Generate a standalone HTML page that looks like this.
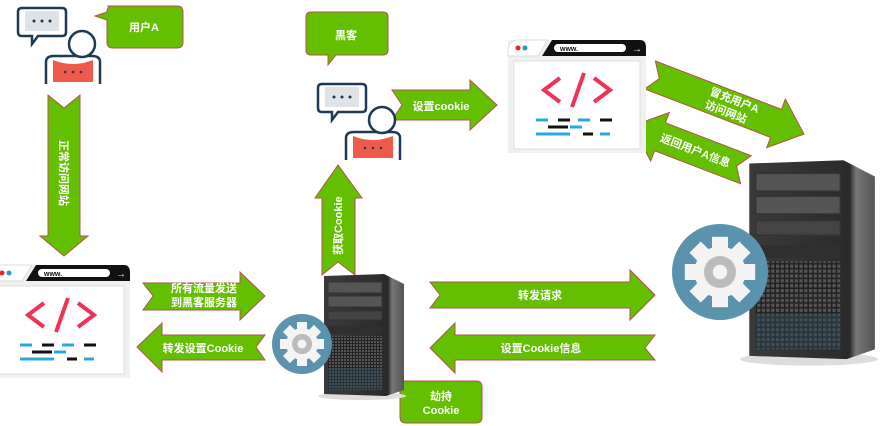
<!DOCTYPE html>
<html><head><meta charset="utf-8"><style>
html,body{margin:0;padding:0;background:#fff;}
svg{display:block;}
text{font-family:"Liberation Sans","Noto Sans CJK SC",sans-serif;font-weight:bold;fill:#fff;}
</style></head><body>
<svg width="880" height="426" viewBox="0 0 880 426" xmlns="http://www.w3.org/2000/svg">
<defs>
<linearGradient id="srv" x1="0" x2="1"><stop offset="0" stop-color="#3a3a3a"/><stop offset="0.8" stop-color="#2a2a2a"/><stop offset="0.85" stop-color="#777"/><stop offset="1" stop-color="#555"/></linearGradient>
<pattern id="grid" width="3" height="3" patternUnits="userSpaceOnUse"><rect width="3" height="3" fill="#222"/><rect width="2" height="2" fill="#555"/></pattern>
<g id="browser">
 <rect x="0" y="0" width="138" height="113" fill="#f0f0f0"/>
 <path d="M0,12 Q0,0 10,0 L40,0 L30,16 L0,16Z" fill="#fff" stroke="#ddd"/>
 <path d="M34,16 L44,0 L132,0 Q138,0 138,8 L138,16Z" fill="#111"/>
 <rect x="46" y="4" width="72" height="8" rx="4" fill="#fff"/>
 <text x="52" y="11" font-size="7" style="fill:#111;font-weight:bold">www.</text>
 <text x="124" y="12" font-size="10" style="fill:#fff">→</text>
 <circle cx="10" cy="8" r="2.5" fill="#e22"/><circle cx="17" cy="8" r="2.5" fill="#29c"/>
 <rect x="6" y="21" width="126" height="88" fill="#fff" stroke="#ddd"/>
 <path d="M52,38 L36,50 L52,62 M86,38 L102,50 L86,62 M76,33 L64,67" stroke="#ee3355" stroke-width="4" fill="none"/>
 <g stroke-width="3"><path d="M28,80h12M70,80h12M62,87h12M28,94h34M92,94h10" stroke="#2aa8dd"/><path d="M50,80h12M92,80h12M40,87h20M80,87h0M75,94h10" stroke="#111"/></g>
</g>
<g id="person">
 <path d="M4,2 h40 q4,0 4,4 v20 q0,4 -4,4 h-24 l-6,8 v-8 h-10 q-4,0 -4,-4 v-20 q0,-4 4,-4z" fill="#fff" stroke="#1e3a55" stroke-width="2.5"/>
 <rect x="7" y="5" width="34" height="20" fill="#dfe3e6"/>
 <circle cx="16" cy="15" r="1.5" fill="#1e3a55"/><circle cx="24" cy="15" r="1.5" fill="#1e3a55"/><circle cx="32" cy="15" r="1.5" fill="#1e3a55"/>
 <path d="M28,78 v-22 q0,-6 8,-6 h38 q8,0 8,6 v22" fill="#fff" stroke="#1e3a55" stroke-width="2.5"/>
 <path d="M35,54 q20,8 40,0 v22 h-40z" fill="#ef5a4c"/>
 <circle cx="47" cy="66" r="1.3" fill="#1e3a55"/><circle cx="55" cy="66" r="1.3" fill="#1e3a55"/><circle cx="63" cy="66" r="1.3" fill="#1e3a55"/>
 <circle cx="64" cy="38" r="13" fill="#fff" stroke="#1e3a55" stroke-width="2.5"/>
</g>
<g id="server">
 <ellipse cx="42" cy="124" rx="44" ry="4" fill="#ddd"/>
 <path d="M4,4 L64,2 L84,12 L84,118 L66,124 L4,122Z" fill="url(#srv)"/>
 <rect x="8" y="10" width="54" height="11" fill="#555" stroke="#333"/>
 <rect x="8" y="24" width="54" height="11" fill="#555" stroke="#333"/>
 <rect x="8" y="39" width="54" height="9" fill="#444" stroke="#333"/>
 <rect x="8" y="54" width="54" height="8" fill="#2f2f2f"/>
 <rect x="8" y="64" width="54" height="54" fill="url(#grid)"/>
 <rect x="8" y="96" width="54" height="22" fill="#2c4a5c" opacity="0.45"/>
</g>
<g id="gear">
 <circle cx="0" cy="0" r="30" fill="#5b93ae"/>
 <g fill="#f4f4f4">
  <circle r="16"/>
  <rect x="-5" y="-22" width="10" height="44"/>
  <rect x="-5" y="-22" width="10" height="44" transform="rotate(45)"/>
  <rect x="-5" y="-22" width="10" height="44" transform="rotate(90)"/>
  <rect x="-5" y="-22" width="10" height="44" transform="rotate(135)"/>
 </g>
 <circle r="10" fill="#bbb"/><circle r="4.5" fill="#f4f4f4"/>
</g>
</defs>
<g stroke="#b5524d" stroke-width="1" fill="#64bf00">
<polygon points="48,95 64,108 80,95 80,236 88,236 64,256 40,236 48,236"/>
<polygon points="322,275 338,262 355,275 355,198 362,198 338,165 315,198 322,198"/>
<polygon points="392,90 470,90 470,80 497,105 470,130 470,120 392,120 402,105"/>
<polygon points="143,283 240,283 240,272 265,296 240,320 240,310 143,310 153,296"/>
<polygon points="265,335 162,335 162,323 137,347 162,372 162,360 265,360 256,347"/>
<polygon points="430,282 630,282 630,270 655,295 630,320 630,308 430,308 440,295"/>
<polygon points="655,335 455,335 455,323 430,348 455,373 455,360 655,360 645,348"/>
<g transform="translate(650,75) rotate(21)"><polygon points="0,-15 135,-15 135,-26 165,0 135,26 135,15 0,15 10,0"/></g>
<g transform="translate(632,126) rotate(21)"><polygon points="0,0 30,-26 30,-15 122,-15 112,0 122,15 30,15 30,26"/></g>
<path d="M107,6 h70 q6,0 6,6 v30 q0,6 -6,6 h-64 q-6,0 -6,-6 v-22 l-12,-4 l12,-4 q0,-6 6,-6z"/>
<path d="M311,12 h72 q5,0 5,5 v33 q0,5 -5,5 h-47 l-8,10 l0,-10 h-17 q-5,0 -5,-5 v-33 q0,-5 5,-5z"/>
<path d="M402,381 h74 q6,0 6,6 v30 q0,6 -6,6 h-70 q-6,0 -6,-6 v-28 l-6,-8 l8,0z"/>
</g>
<use href="#person" x="18" y="6"/>
<use href="#person" x="318" y="82"/>
<use href="#browser" x="508" y="40"/>
<use href="#browser" x="-8" y="265"/>
<use href="#server" x="320" y="272"/>
<use href="#server" transform="translate(743,157) scale(1.57,1.63)"/>
<use href="#gear" x="302" y="344"/>
<use href="#gear" transform="translate(720,272) scale(1.6)"/>
<g font-size="11" text-anchor="middle">
<text x="144" y="31">用户A</text>
<text x="346" y="39">黑客</text>
<text x="441" y="110">设置cookie</text>
<text x="204" y="292">所有流量发送</text>
<text x="204" y="306">到黑客服务器</text>
<text x="203" y="352">转发设置Cookie</text>
<text x="540" y="299">转发请求</text>
<text x="541" y="352">设置Cookie信息</text>
<text x="441" y="400">劫持</text>
<text x="441" y="414">Cookie</text>
<text transform="translate(60,140) rotate(90)" x="0" y="0" text-anchor="start">正常访问网站</text>
<text transform="translate(342,255) rotate(-90)" x="0" y="0" text-anchor="start">获取Cookie</text>
<g transform="translate(650,75) rotate(21)">
<text x="88" y="-3">冒充用户A</text>
<text x="84" y="11">访问网站</text>
</g>
<g transform="translate(632,126) rotate(21)">
<text x="68" y="4">返回用户A信息</text>
</g>
</g>
</svg>
</body></html>
